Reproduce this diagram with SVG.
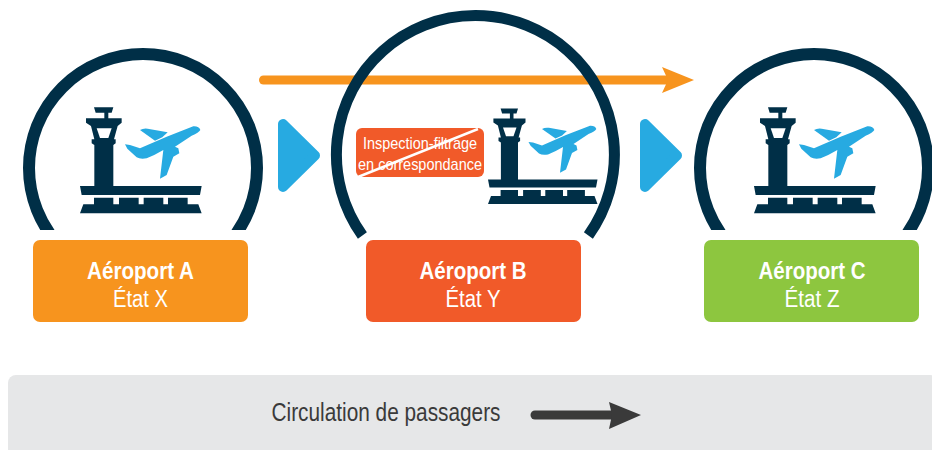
<svg xmlns="http://www.w3.org/2000/svg" xmlns:xlink="http://www.w3.org/1999/xlink" width="932" height="450" viewBox="0 0 932 450">
<style>
text{font-family:"Liberation Sans",Arial,sans-serif;fill:#fff;text-anchor:middle}
.name{font-size:23px;font-weight:bold}
.state{font-size:23px}
.ring{fill:none;stroke:#002F47;stroke-width:12}
.dark{fill:#002F47}
.blue{fill:#27AAE1}
.tri{fill:#27AAE1;stroke:#27AAE1;stroke-width:10;stroke-linejoin:round}
.small{font-size:17px}
</style>
<defs>
<clipPath id="cut"><rect x="0" y="0" width="932" height="230"/></clipPath>
<g id="icon">
<path class="dark" d="M57 22H115L110 38H100V55H140V68L128 78L117 118H122V130L115 135V258H380L375 285H20L15 258H58V135L50 130V118H58L48 78L33 68V55H88V38H62Z"/>
<path fill="#fff" d="M65 85H110L100 114H75Z"/>
<path class="dark" d="M57 293H115V313H132V293H191V313H206V293H265V313H279V293H338V313H370L380 340H15L25 313H57Z"/>
<path class="blue" d="M195 90Q205 84 218 86L278 97L262 112L240 122Z"/>
<path class="blue" d="M355 79Q372 78 376 90Q372 98 350 107L300 140L310 145L313 160L295 170L275 225L255 236L265 150Q240 165 215 175Q195 178 185 172L157 146L150 133L165 135L195 145L275 110Z"/>
</g>
</defs>
<g id="connectors">
<path d="M263.500 80H668" fill="none" stroke="#F7941E" stroke-width="9" stroke-linecap="round"/>
<path d="M662 67L694 80L662 93L668 80Z" fill="#F7941E"/>
<path class="tri" d="M283 124V187L315 155.500Z"/>
<path class="tri" d="M645 124V187L677 155.500Z"/>
</g>
<g id="airport-a">
<circle class="ring" cx="143" cy="168" r="114" clip-path="url(#cut)"/>
<use xlink:href="#icon" href="#icon" transform="translate(75 100) scale(.3333)"/>
<rect x="33" y="240" width="215" height="82" rx="7" fill="#F7941E"/>
<text class="name" x="140.500" y="279" textLength="107" lengthAdjust="spacingAndGlyphs">Aéroport A</text>
<text class="state" x="140.500" y="307" textLength="55" lengthAdjust="spacingAndGlyphs">État X</text>
</g>
<g id="airport-b">
<path class="ring" style="stroke-width:11" d="M362.400 235.500A139 139 0 1 1 588.400 235.500"/>
<use xlink:href="#icon" href="#icon" transform="translate(483.500 102) scale(.3)"/>
<rect x="356" y="128" width="128" height="49" rx="6" fill="#F15A29"/>
<path d="M358 177L478 129" stroke="#fff" stroke-width="2.500"/>
<text class="small" x="420" y="149" textLength="114" lengthAdjust="spacingAndGlyphs">Inspection-filtrage</text>
<text class="small" x="420" y="170" textLength="124" lengthAdjust="spacingAndGlyphs">en correspondance</text>
<rect x="366" y="240" width="215" height="82" rx="7" fill="#F15A29"/>
<text class="name" x="473" y="279" textLength="107" lengthAdjust="spacingAndGlyphs">Aéroport B</text>
<text class="state" x="473" y="307" textLength="55" lengthAdjust="spacingAndGlyphs">État Y</text>
</g>
<g id="airport-c">
<circle class="ring" cx="814" cy="168" r="114" clip-path="url(#cut)"/>
<use xlink:href="#icon" href="#icon" transform="translate(749 100) scale(.3333)"/>
<rect x="704" y="240" width="215" height="82" rx="7" fill="#8DC63F"/>
<text class="name" x="812" y="279" textLength="107" lengthAdjust="spacingAndGlyphs">Aéroport C</text>
<text class="state" x="812" y="307" textLength="55" lengthAdjust="spacingAndGlyphs">État Z</text>
</g>
<g id="legend">
<rect x="8" y="375" width="930" height="85" rx="8" fill="#E6E7E8"/>
<text x="386" y="421" font-size="25" textLength="229" lengthAdjust="spacingAndGlyphs" style="fill:#3A3A3A">Circulation de passagers</text>
<path d="M535 415H612" stroke="#3A3A3A" stroke-width="9" stroke-linecap="round"/>
<path d="M609 402L641 415L609 429L612 415Z" fill="#3A3A3A"/>
</g>
</svg>
